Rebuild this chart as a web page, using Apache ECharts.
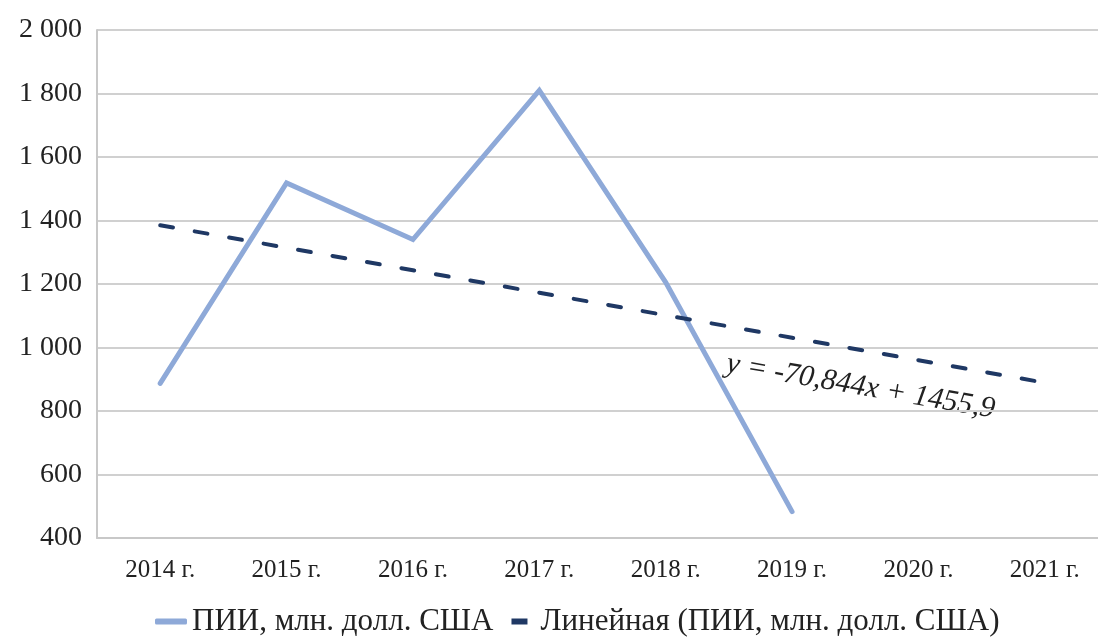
<!DOCTYPE html>
<html>
<head>
<meta charset="utf-8">
<script src="https://cdn.jsdelivr.net/npm/echarts@6/dist/echarts.min.js"></script>
<style>html,body{margin:0;padding:0;background:#fff;}#c{width:1098px;height:641px;}</style>
</head>
<body>
<div id="c"></div>
<script>
const categories = ['2014 г.', '2015 г.', '2016 г.', '2017 г.', '2018 г.', '2019 г.', '2020 г.', '2021 г.'];
const fdiValues = [887, 1518, 1340, 1810, 1205, 483, null, null];
const trendSlope = -70.844;
const trendIntercept = 1455.9;
const trendValues = categories.map((c, i) => +(trendSlope * (i + 1) + trendIntercept).toFixed(1));
const seriesNames = ['ПИИ, млн. долл. США', 'Линейная (ПИИ, млн. долл. США)'];
const equationText = 'y = -70,844x + 1455,9';

const chart = echarts.init(document.getElementById('c'));
const serif = '"Liberation Serif", "Times New Roman", serif';
chart.setOption({
  animation: false,
  backgroundColor: '#ffffff',
  grid: { left: 97, top: 30, bottom: 103, width: 1011, containLabel: false, outerBoundsMode: 'none' },
  legend: {
    left: 150, top: 601,
    itemWidth: 32, itemHeight: 6, itemGap: 18,
    textStyle: { fontFamily: serif, fontSize: 31, color: '#222' },
    data: [
      { name: seriesNames[0], icon: 'roundRect' },
      { name: seriesNames[1], icon: 'path://M0,0 L16,0 L16,6 L0,6 Z' }
    ]
  },
  xAxis: {
    type: 'category', data: categories, boundaryGap: true,
    axisLine: { lineStyle: { color: '#c8c8c8', width: 2 } },
    axisTick: { show: false },
    axisLabel: { fontFamily: serif, fontSize: 25, color: '#222', margin: 20 }
  },
  yAxis: {
    type: 'value', min: 400, max: 2000, interval: 200,
    axisLine: { show: true, lineStyle: { color: '#c8c8c8', width: 2 } },
    axisTick: { show: false },
    splitLine: { lineStyle: { color: '#d0d0d0', width: 2 } },
    axisLabel: {
      fontFamily: serif, fontSize: 28, color: '#222', margin: 15,
      formatter: v => v >= 1000 ? Math.floor(v / 1000) + ' ' + String(v % 1000).padStart(3, '0') : String(v)
    }
  },
  series: [
    {
      name: seriesNames[0], type: 'line', data: fdiValues,
      symbol: 'none', color: '#8EA9D8',
      lineStyle: { color: '#8EA9D8', width: 5, cap: 'round', join: 'miter' }
    },
    {
      name: seriesNames[1], type: 'line', data: trendValues,
      symbol: 'none', color: '#1F3864',
      lineStyle: { color: '#1F3864', width: 4, type: [13, 22], cap: 'round' }
    }
  ],
  graphic: [{
    type: 'text', x: 729, y: 349, rotation: -0.17,
    style: { text: equationText, font: 'italic 30px ' + serif, fill: '#222', textVerticalAlign: 'top' }
  }]
});
</script>
</body>
</html>
